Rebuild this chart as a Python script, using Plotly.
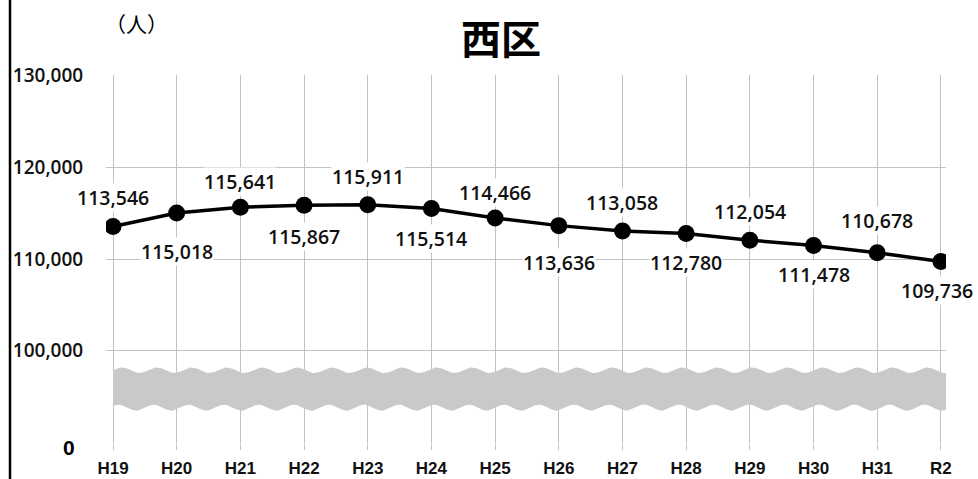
import numpy as np
import plotly.graph_objects as go

categories = ["H19", "H20", "H21", "H22", "H23", "H24", "H25",
              "H26", "H27", "H28", "H29", "H30", "H31", "R2"]
population = [113546, 115018, 115641, 115867, 115911, 115514, 114466,
              113636, 113058, 112780, 112054, 111478, 110678, 109736]
y_tick_vals = [100000, 110000, 120000, 130000]
y_tick_text = ["100,000", "110,000", "120,000", "130,000"]

# label placement (pixels above (+) / below (-) each point)
label_shift = [29, -39, 26, -31, 28, -30, 26, -37, 28, -29, 29, -29, 32, -29]

x_idx = list(range(len(categories)))
AXIS_BOTTOM = 90000  # plotted position that stands for "0" (broken axis)

# plot-area pixel geometry
L, R, T, B = 106, 946, 75, 443
W, H = R - L, B - T
px_x = lambda px: (px - L) / W
px_y = lambda py: (B - py) / H

fig = go.Figure()

# broken-axis wavy band (decoration)
bx = np.linspace(0, 13.08, 500)
period = 0.55
top = 97880 + 300 * np.sin(bx * 2 * np.pi / period)
bot = 93800 + 330 * np.sin(bx * 2 * np.pi / period + 0.5)
fig.add_trace(go.Scatter(
    x=np.concatenate([bx, bx[::-1]]),
    y=np.concatenate([top, bot[::-1]]),
    fill="toself", fillcolor="#c9c9c9", line=dict(width=0),
    mode="lines", hoverinfo="skip", showlegend=False))

fig.add_trace(go.Scatter(
    x=x_idx, y=population, mode="lines+markers",
    line=dict(color="black", width=3.5),
    marker=dict(color="black", size=17),
    showlegend=False))

for i, v in enumerate(population):
    fig.add_annotation(
        x=i, y=v, xref="x", yref="y", text=f"{v:,}", showarrow=False,
        xanchor="center", yanchor="middle",
        yshift=label_shift[i], xshift=(-4 if i == len(population) - 1 else 0),
        font=dict(family="Open Sans", size=19.5, color="#111111", weight=600),
        bgcolor="white", borderpad=0)

# "0" label for broken axis
fig.add_annotation(x=px_x(69), y=px_y(447), xref="paper", yref="paper", text="<b>0</b>",
                   showarrow=False, xanchor="center", yanchor="middle",
                   font=dict(family="Liberation Sans", size=21, color="black"))

fig.add_annotation(x=px_x(501), y=px_y(37), xref="paper", yref="paper",
                   text="<b>西区</b>", showarrow=False, xanchor="center", yanchor="middle",
                   font=dict(family="Noto Sans CJK JP", size=40, color="black"))
fig.add_annotation(x=px_x(136), y=px_y(23), xref="paper", yref="paper",
                   text="（人）", showarrow=False, xanchor="center", yanchor="middle",
                   font=dict(family="Noto Sans CJK JP", size=21, color="black"))

fig.update_layout(
    width=978, height=479,
    margin=dict(l=L, r=978 - R, t=T, b=479 - B, autoexpand=False),
    paper_bgcolor="white", plot_bgcolor="white",
    xaxis=dict(
        range=[-0.11, 13.08], tickvals=x_idx, ticktext=categories,
        showgrid=True, gridcolor="#c2c2c2", gridwidth=1,
        ticks="outside", ticklen=6, tickcolor="#c2c2c2",
        ticklabelstandoff=4, automargin=False,
        tickfont=dict(family="Liberation Sans", size=17, color="#111111", weight="bold"),
        zeroline=False, showline=False, fixedrange=True),
    yaxis=dict(
        range=[AXIS_BOTTOM - 50, 130050],
        tickvals=[AXIS_BOTTOM] + y_tick_vals, ticktext=[""] + y_tick_text,
        showgrid=True, gridcolor="#c2c2c2", gridwidth=1,
        ticks="outside", ticklen=18, tickcolor="rgba(0,0,0,0)", automargin=False,
        tickfont=dict(family="Open Sans", size=19, color="#111111", weight=600),
        zeroline=False, showline=False, fixedrange=True),
    shapes=[dict(type="line", xref="paper", yref="paper",
                 x0=px_x(10), x1=px_x(10),
                 y0=-0.2, y1=1.3, line=dict(color="black", width=2.5))],
)

fig.write_html("out.html", config={"displayModeBar": False},
               post_script="document.body.style.margin='0';")
